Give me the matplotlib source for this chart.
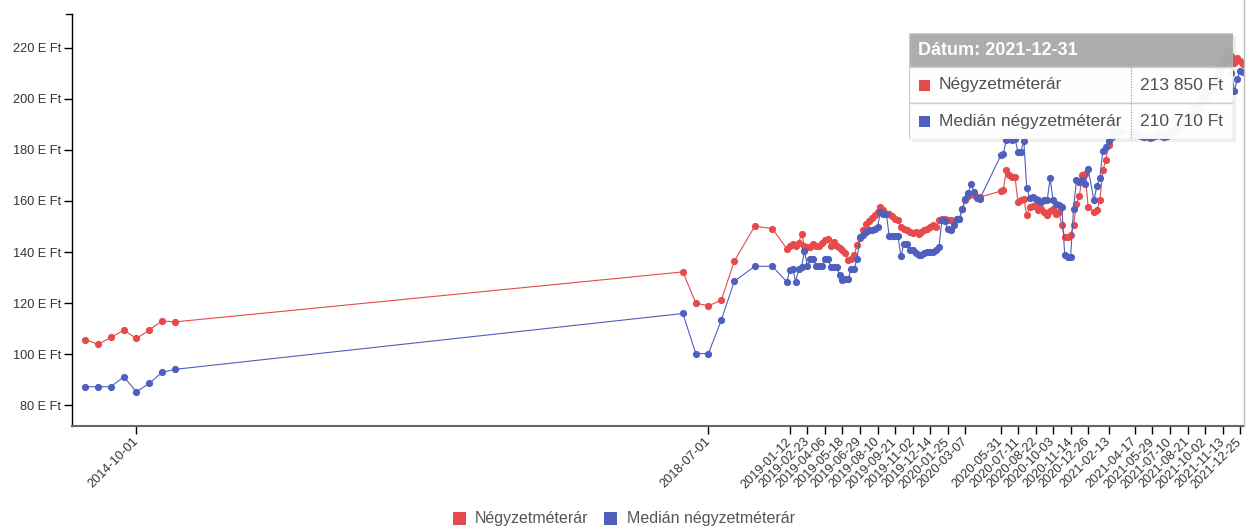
import matplotlib
matplotlib.use('Agg')
import matplotlib.pyplot as plt
from matplotlib.patches import Rectangle
from matplotlib.lines import Line2D
import pandas as pd

plt.rcParams['font.family'] = ['Liberation Sans', 'DejaVu Sans']

# ---------------- data (values in thousand Ft, "E Ft") ----------------
dates_early = ['2014-06-01', '2014-07-01', '2014-08-01', '2014-09-01', '2014-10-01',
               '2014-11-01', '2014-12-01', '2015-01-01']
red_early = [105.7, 103.8, 106.5, 109.4, 106.1, 109.4, 113.0, 112.6]
blue_early = [87.2, 87.2, 87.2, 91.1, 85.2, 88.5, 92.8, 94.0]

dates_2018 = ['2018-05-01', '2018-06-01', '2018-07-01', '2018-08-01', '2018-09-01',
              '2018-10-20', '2018-12-01']
red_2018 = [132.2, 120.0, 118.9, 121.1, 136.4, 150.1, 149.2]
blue_2018 = [115.9, 100.2, 100.2, 113.3, 128.5, 134.4, 134.4]

dates_a = ['2019-01-05', '2019-01-12', '2019-01-19', '2019-01-26', '2019-02-02', '2019-02-09',
           '2019-02-16', '2019-02-23', '2019-03-02', '2019-03-09', '2019-03-16', '2019-03-23',
           '2019-03-30', '2019-04-06', '2019-04-13', '2019-04-20', '2019-04-27', '2019-05-04',
           '2019-05-11', '2019-05-18', '2019-05-25', '2019-06-01', '2019-06-08', '2019-06-15',
           '2019-06-22', '2019-06-29', '2019-07-06', '2019-07-13', '2019-07-20', '2019-07-27',
           '2019-08-03', '2019-08-10', '2019-08-17', '2019-08-24', '2019-08-31', '2019-09-07',
           '2019-09-14', '2019-09-21', '2019-09-28', '2019-10-05', '2019-10-12', '2019-10-19',
           '2019-10-26', '2019-11-02', '2019-11-09', '2019-11-16', '2019-11-23', '2019-11-30',
           '2019-12-07', '2019-12-14', '2019-12-21', '2019-12-28', '2020-01-04', '2020-01-11',
           '2020-01-18', '2020-01-25', '2020-02-01', '2020-02-08', '2020-02-15', '2020-02-22',
           '2020-02-29', '2020-03-07', '2020-03-14', '2020-03-21', '2020-03-28', '2020-04-04',
           '2020-04-11']
red_a = [141.3, 142.5, 143.0, 142.5, 143.5, 147.2, 142.5, 142.0, 142.0, 143.0, 142.5, 142.2,
         143.5, 144.8, 145.0, 142.5, 143.9, 142.5, 141.5, 140.7, 139.5, 137.0, 137.4, 139.0,
         142.6, 145.5, 148.5, 151.1, 152.0, 153.5, 154.4, 155.5, 157.6, 156.5, 155.0, 155.0,
         154.0, 153.1, 152.5, 150.0, 149.2, 148.5, 147.8, 147.5, 147.8, 147.2, 148.0, 148.5,
         149.2, 150.0, 150.5, 150.0, 152.5, 153.1, 152.8, 152.4, 152.4, 152.0, 153.1, 153.0,
         157.0, 160.2, 162.0, 162.8, 162.5, 161.5, 161.5]
blue_a = [128.3, 133.0, 133.5, 128.3, 133.5, 134.1, 140.4, 134.5, 137.4, 137.4, 134.4, 134.4,
          134.4, 137.4, 137.4, 134.1, 134.1, 134.1, 131.0, 128.9, 129.6, 129.6, 133.5, 133.5,
          137.4, 145.9, 146.5, 148.0, 148.5, 148.5, 149.2, 150.0, 155.7, 155.0, 155.0, 146.1,
          146.1, 146.1, 146.1, 138.3, 143.3, 143.3, 140.7, 140.7, 139.5, 139.0, 138.7, 139.5,
          140.0, 140.0, 140.0, 140.7, 142.0, 152.4, 152.0, 149.0, 148.5, 150.5, 153.1, 153.1,
          157.0, 160.9, 163.0, 166.8, 163.5, 161.0, 160.9]

dates_b = ['2020-05-31', '2020-06-06', '2020-06-13', '2020-06-20', '2020-06-27', '2020-07-04',
           '2020-07-11', '2020-07-18', '2020-07-25', '2020-08-01', '2020-08-08', '2020-08-15',
           '2020-08-22', '2020-08-29', '2020-09-05', '2020-09-12', '2020-09-19', '2020-09-26',
           '2020-10-03', '2020-10-10', '2020-10-17', '2020-10-24', '2020-10-31', '2020-11-07',
           '2020-11-14', '2020-11-21', '2020-11-28', '2020-12-05', '2020-12-12', '2020-12-19',
           '2020-12-26', '2021-01-09', '2021-01-16', '2021-01-23', '2021-01-30', '2021-02-06',
           '2021-02-13']
red_b = [163.9, 164.5, 172.0, 170.0, 169.4, 169.4, 159.6, 160.5, 160.9, 154.4, 157.5, 158.0,
         158.3, 156.3, 157.0, 155.5, 154.4, 156.0, 157.0, 155.0, 155.5, 150.5, 145.9, 146.0,
         146.5, 150.5, 158.9, 162.0, 170.0, 170.7, 157.6, 155.7, 156.5, 160.2, 172.0, 176.0,
         181.8]
blue_b = [177.9, 178.5, 184.0, 184.4, 184.0, 184.4, 179.2, 179.2, 183.7, 165.2, 161.0, 161.5,
          160.9, 160.5, 159.6, 160.2, 160.2, 169.1, 160.2, 158.9, 158.5, 157.6, 138.7, 138.0,
          138.0, 157.0, 168.1, 167.5, 168.1, 166.5, 172.6, 160.2, 166.0, 169.1, 179.5, 181.0,
          183.7]

dates_c = ['2021-02-20', '2021-02-27', '2021-03-06', '2021-03-13', '2021-04-10',
           '2021-04-17', '2021-04-24', '2021-05-01', '2021-05-08', '2021-05-15', '2021-05-22',
           '2021-05-29', '2021-06-05', '2021-06-12', '2021-06-19', '2021-06-26', '2021-07-03',
           '2021-07-10', '2021-07-17', '2021-07-24', '2021-07-31', '2021-08-07', '2021-08-14',
           '2021-08-21', '2021-08-28', '2021-09-04', '2021-09-11', '2021-09-18', '2021-09-25',
           '2021-10-02', '2021-10-09', '2021-10-16', '2021-10-23', '2021-10-30', '2021-11-06',
           '2021-11-13', '2021-11-20', '2021-11-27', '2021-12-04', '2021-12-11', '2021-12-18',
           '2021-12-25', '2021-12-31']
red_c = [185.0, 186.5, 187.5, 187.0, 186.0,
         186.0, 186.5, 185.5, 185.0, 185.5, 184.8, 185.0, 185.5, 186.5, 186.0, 185.0, 185.5,
         187.0, 188.0, 189.0, 191.0, 192.0, 193.0, 192.5, 194.0, 196.0, 197.0, 199.0, 201.0,
         203.0, 204.0, 206.0, 208.0, 210.0, 213.0, 216.0, 218.5, 219.0, 217.0, 214.0, 216.0,
         215.0, 213.85]
blue_c = [186.0, 187.5, 188.0, 187.5, 187.0,
          187.0, 186.0, 185.5, 185.0, 185.5, 185.0, 185.0, 185.5, 186.0, 185.5, 185.0, 185.5,
          186.0, 187.0, 188.0, 189.5, 190.0, 191.0, 191.5, 192.0, 194.0, 195.0, 197.0, 199.0,
          200.0, 202.0, 204.0, 206.0, 208.0, 210.0, 213.0, 215.0, 215.5, 210.0, 203.0, 208.0,
          211.0, 210.71]

tick_dates = ['2014-10-01', '2018-07-01', '2019-01-12', '2019-02-23', '2019-04-06', '2019-05-18',
              '2019-06-29', '2019-08-10', '2019-09-21', '2019-11-02', '2019-12-14', '2020-01-25',
              '2020-03-07', '2020-05-31', '2020-07-11', '2020-08-22', '2020-10-03', '2020-11-14',
              '2020-12-26', '2021-02-13', '2021-04-17', '2021-05-29', '2021-07-10', '2021-08-21',
              '2021-10-02', '2021-11-13', '2021-12-25']
y_ticks = [80, 100, 120, 140, 160, 180, 200, 220]
series_names = ['Négyzetméterár', 'Medián négyzetméterár']
tooltip_date = '2021-12-31'

dates = dates_early + dates_2018 + dates_a + dates_b + dates_c
red = red_early + red_2018 + red_a + red_b + red_c
blue = blue_early + blue_2018 + blue_a + blue_b + blue_c

RED = '#e64a4a'
BLUE = '#4f5fbe'
TXT = '#505050'

# ---------------- figure ----------------
W, H = 1256, 529
fig = plt.figure(figsize=(W / 100, H / 100), dpi=100)
ax = fig.add_axes([72 / W, 1 - 426 / H, (1244 - 72) / W, (426 - 14) / H])

d = pd.to_datetime(dates)
ax.plot(d, red, color=RED, lw=0.8, marker='o', ms=5.2, mew=0, zorder=3)
ax.plot(d, blue, color=BLUE, lw=0.8, marker='o', ms=5.2, mew=0, zorder=4)

ax.set_xlim(pd.Timestamp('2014-04-30'), pd.Timestamp('2022-01-03'))
ax.set_ylim(71.8, 233.3)
ax.set_yticks(y_ticks)
ax.set_yticklabels([f'{v} E Ft' for v in y_ticks])
ax.set_xticks(pd.to_datetime(tick_dates))
ax.set_xticklabels(tick_dates, rotation=45, ha='right', va='center', rotation_mode='anchor')
ax.tick_params(axis='y', length=6, width=1, color='black', labelsize=9.2, labelcolor='#333333', pad=2)
ax.tick_params(axis='x', length=6, width=1, color='black', labelsize=9.2, labelcolor='#333333', pad=4)
for s in ['top', 'right']:
    ax.spines[s].set_visible(False)
ax.spines['left'].set_color('black')
ax.spines['left'].set_linewidth(1)
ax.spines['bottom'].set_color('#666666')
ax.spines['bottom'].set_linewidth(1.5)

# outer tick at top of y axis
fig.add_artist(Line2D([66 / W, 72 / W], [1 - 14 / H, 1 - 14 / H], color='black', lw=1))
# focus line at hovered date
fig.add_artist(Line2D([1244 / W, 1244 / W], [1 - 0 / H, 1 - 426 / H], color='#bbbbbb', lw=1))

# ---------------- tooltip ----------------
tx = fig.add_axes([909 / W, 1 - 139 / H, 324 / W, 106 / H])
tx.set_xlim(0, 324)
tx.set_ylim(106, 0)
tx.axis('off')
tx.add_patch(Rectangle((3, 3), 324, 106, facecolor='#777777', alpha=0.12, edgecolor='none', clip_on=False))
tx.add_patch(Rectangle((0, 0), 324, 34, facecolor='#aaaaaa', alpha=0.95, edgecolor='#cccccc', lw=1))
tx.add_patch(Rectangle((0, 34), 324, 36, facecolor='white', alpha=0.96, edgecolor='#cccccc', lw=1))
tx.add_patch(Rectangle((0, 70), 324, 36, facecolor='white', alpha=0.96, edgecolor='#cccccc', lw=1))
tx.plot([222, 222], [34, 106], color='#999999', lw=0.8, ls=(0, (1, 1.5)))
tx.text(9, 17.5, f'Dátum: {tooltip_date}', color='white', fontweight='bold', fontsize=13,
        va='center', ha='left')
last_vals = [red[-1], blue[-1]]
for i, (name, col, v) in enumerate(zip(series_names, [RED, BLUE], last_vals)):
    yc = 52 + 36 * i
    tx.add_patch(Rectangle((10, yc - 5.5), 11, 11, facecolor=col, edgecolor='none'))
    tx.text(30, yc, name, color=TXT, fontsize=12.5, va='center', ha='left')
    val = f'{round(v * 1000):,}'.replace(',', ' ') + ' Ft'
    tx.text(314, yc, val, color=TXT, fontsize=12.5, va='center', ha='right')

# ---------------- legend ----------------
lg = fig.add_axes([0, 0, 1, 1], facecolor='none')
lg.set_xlim(0, W)
lg.set_ylim(H, 0)
lg.axis('off')
lg.add_patch(Rectangle((453, 512), 13, 13, facecolor=RED, edgecolor='none'))
lg.text(475, 519, series_names[0], color='#555555', fontsize=11.5, va='center', ha='left')
lg.add_patch(Rectangle((604, 512), 13, 13, facecolor=BLUE, edgecolor='none'))
lg.text(627, 519, series_names[1], color='#555555', fontsize=11.5, va='center', ha='left')

fig.savefig('out.png', dpi=100)
